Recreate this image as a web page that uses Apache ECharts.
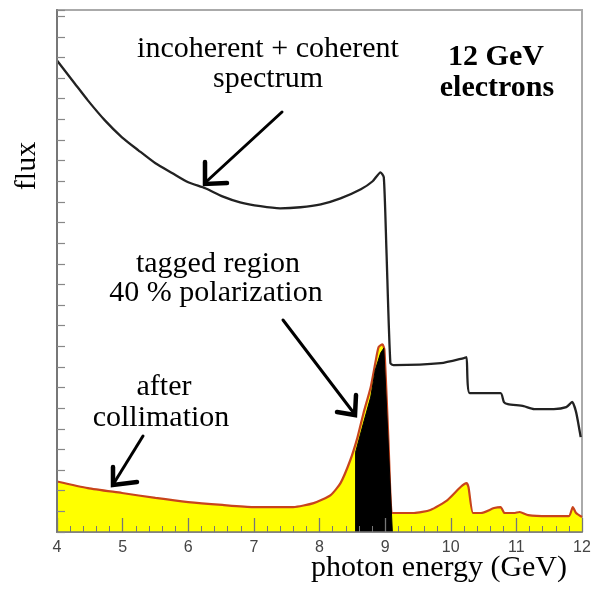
<!DOCTYPE html>
<html><head><meta charset="utf-8">
<script src="https://cdn.jsdelivr.net/npm/echarts@6/dist/echarts.min.js"></script>
<style>html,body{margin:0;padding:0;background:#fff}#c{width:600px;height:592px}</style>
</head><body><div id="c"></div>
<script>
// ---- data (arbitrary flux units) ----
const xTickValues = [4, 5, 6, 7, 8, 9, 10, 11, 12];

const totalEnergy = [4.0, 4.27, 4.47, 4.73, 4.99, 5.24, 5.50, 5.76, 6.00, 6.26, 6.52, 6.79, 7.10, 7.40, 7.71, 8.02, 8.32, 8.63, 8.81, 8.93, 8.98, 9.02, 9.08, 9.13, 9.85, 10.20, 10.24, 10.29, 10.76, 10.81, 10.87, 11.11, 11.27, 11.57, 11.76, 11.85, 11.91, 11.98];
const totalFlux = [22.85, 21.74, 20.92, 19.95, 19.13, 18.50, 17.87, 17.39, 16.95, 16.66, 16.27, 15.98, 15.79, 15.69, 15.74, 15.88, 16.17, 16.61, 17.00, 17.43, 17.19, 13.66, 8.18, 8.09, 8.18, 8.43, 8.47, 6.73, 6.73, 6.30, 6.20, 6.10, 5.96, 5.96, 6.05, 6.30, 5.81, 4.60];

const collimatedEnergy = [4.0, 4.47, 4.99, 5.50, 6.00, 6.52, 6.99, 7.30, 7.60, 7.91, 8.17, 8.32, 8.47, 8.58, 8.67, 8.78, 8.85, 8.90, 8.96, 8.99, 9.05, 9.10, 9.13, 9.44, 9.69, 9.95, 10.15, 10.24, 10.27, 10.34, 10.46, 10.66, 10.76, 10.82, 10.96, 11.05, 11.18, 11.48, 11.80, 11.86, 11.91, 12.0];
const collimatedFlux = [2.45, 2.13, 1.89, 1.65, 1.45, 1.31, 1.21, 1.21, 1.21, 1.40, 1.79, 2.37, 3.49, 4.60, 5.76, 7.02, 8.18, 8.96, 9.10, 8.81, 4.46, 0.92, 0.92, 0.92, 1.07, 1.55, 2.18, 2.37, 2.18, 0.92, 0.92, 1.16, 1.21, 0.92, 0.92, 0.97, 0.82, 0.77, 0.77, 1.21, 0.92, 0.73];

const taggedEnergy = [8.55, 8.55, 8.67, 8.78, 8.85, 8.93, 8.98, 9.11];
const taggedFlux = [0, 3.87, 5.28, 6.54, 7.85, 8.67, 8.91, 0];

const zip = (xs, ys) => xs.map((x, i) => [x, ys[i]]);

const chart = echarts.init(document.getElementById('c'), null, {renderer: 'canvas'});
const serif = '"Liberation Serif", "Times New Roman", serif';

function txt(text, x, y, opts) {
  opts = opts || {};
  return {
    type: 'text', x: x, y: y, z: 100, rotation: opts.rotation || 0,
    style: {
      text: text,
      font: (opts.bold ? 'bold ' : '') + (opts.size || 30) + 'px ' + serif,
      fill: '#000',
      align: 'center', textAlign: 'center',
      verticalAlign: 'middle', textVerticalAlign: 'middle'
    }
  };
}
function line(points, w) {
  return {type: 'polyline', z: 100, shape: {points: points},
    style: {stroke: '#000', lineWidth: w, fill: null, lineCap: 'round', lineJoin: 'miter'}};
}

chart.setOption({
  animation: false,
  backgroundColor: '#fff',
  grid: {left: 57, right: 18, top: 10, bottom: 60, containLabel: false, outerBoundsMode: 'none',
         show: true, borderColor: '#aaa', borderWidth: 2, backgroundColor: 'transparent'},
  xAxis: {
    type: 'value', min: 4, max: 12, interval: 1, z: 10,
    axisLine: {show: true, lineStyle: {color: '#777', width: 1.5}},
    axisTick: {show: true, inside: true, length: 14, lineStyle: {color: '#777', width: 1.3}},
    minorTick: {show: true, splitNumber: 5, length: 6, lineStyle: {color: '#777', width: 1}},
    splitLine: {show: false}, minorSplitLine: {show: false},
    axisLabel: {margin: 8, fontSize: 16, color: '#444', fontFamily: '"Liberation Sans", Arial, sans-serif',
      showMinLabel: true, showMaxLabel: true,
      formatter: v => (xTickValues.indexOf(v) >= 0 ? String(v) : '')}
  },
  yAxis: {
    type: 'value', min: 0, max: 25.3, interval: 1, z: 10,
    axisLine: {show: true, lineStyle: {color: '#777', width: 2}},
    axisTick: {show: true, inside: true, length: 8, lineStyle: {color: '#888', width: 1.2}},
    axisLabel: {show: false}, splitLine: {show: false}
  },
  series: [
    {type: 'line', name: 'after collimation', data: zip(collimatedEnergy, collimatedFlux),
     showSymbol: false, symbol: 'none', z: 2, smooth: 0.2,
     lineStyle: {color: '#c8441c', width: 2.2}, areaStyle: {color: '#ffff00', opacity: 1}},
    {type: 'line', name: 'tagged region', data: zip(taggedEnergy, taggedFlux),
     showSymbol: false, symbol: 'none', z: 3,
     lineStyle: {color: '#000', width: 1}, areaStyle: {color: '#000', opacity: 1}},
    {type: 'line', name: 'incoherent + coherent', data: zip(totalEnergy, totalFlux),
     showSymbol: false, symbol: 'none', z: 4, smooth: 0.2,
     lineStyle: {color: '#222', width: 2.3}}
  ],
  graphic: [
    txt('incoherent + coherent', 268, 49),
    txt('spectrum', 268, 79),
    txt('12 GeV', 496, 57, {bold: true}),
    txt('electrons', 497, 88, {bold: true}),
    txt('tagged region', 218, 264),
    txt('40 % polarization', 216, 293),
    txt('after', 164, 387),
    txt('collimation', 161, 418),
    txt('photon energy (GeV)', 439, 568),
    txt('flux', 27, 166, {rotation: Math.PI / 2}),
    line([[282, 112], [207, 181]], 3),
    line([[227, 183], [205, 184], [205, 162]], 4.5),
    line([[283, 320], [353, 412]], 3),
    line([[337, 412], [355, 415], [356, 395]], 4.5),
    line([[143, 436], [114, 483]], 3),
    line([[137, 482], [113, 485], [113, 467]], 4.5)
  ]
});
</script></body></html>
